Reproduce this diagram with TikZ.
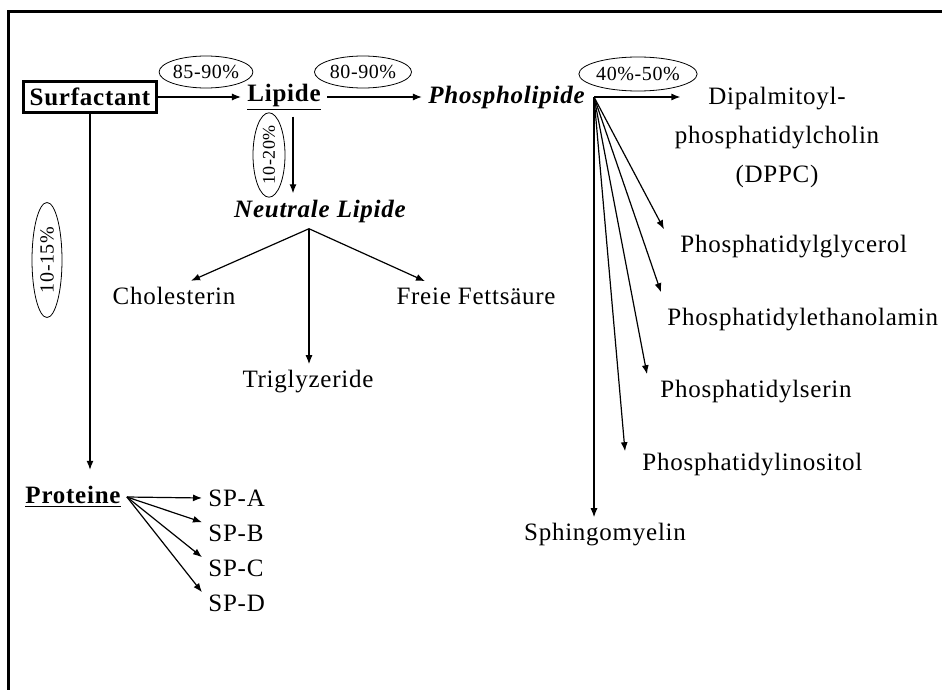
\documentclass[tikz,border=0pt]{standalone}
\usepackage{fontspec}
\setmainfont{Liberation Serif}[LetterSpace=3]
\usetikzlibrary{positioning,shapes.geometric,arrows.meta}

\begin{document}
\begin{tikzpicture}[
  x=0.5pt, y=-0.5pt,
  font=\fontsize{12.5}{15}\selectfont,
  lbl/.style={inner sep=3pt},
  head/.style={inner sep=3pt,font=\fontsize{12.5}{15}\selectfont\bfseries},
  headit/.style={inner sep=3pt,font=\fontsize{12.5}{15}\selectfont\bfseries\itshape},
  pct/.style={ellipse,draw,line width=0.4pt,inner sep=0pt,minimum height=16pt,font=\fontsize{10}{12}\selectfont},
  arrow/.style={->,>={Latex[length=4.5pt,width=3.5pt]},line width=0.6pt}
]
\useasboundingbox (0,0) rectangle (942,690);
\draw[line width=1.5pt] (8.5,690) -- (8.5,12) -- (942,12);

% main branches
\node[head,draw,line width=1.2pt,minimum height=15.5pt,inner xsep=3pt] (surf) at (90,97) {Surfactant};
\node[head] (lip) at (284,97) {\underline{Lipide}};
\node[headit,anchor=east] (phos) at (591,97) {Phospholipide};
\node[headit] (neut) at (320,211) {Neutrale Lipide};
\node[head] (prot) at (73,497) {\underline{Proteine}};

% percentages
\node[pct,minimum width=46pt] (p1) at (206,72) {85-90\%};
\node[pct,minimum width=48.5pt] (p2) at (363,72) {80-90\%};
\node[pct,minimum width=53.5pt,minimum height=17pt] (p3) at (638,74) {40\%-50\%};
\node[pct,minimum width=37.5pt,rotate=90,font=\fontsize{9}{10}\selectfont] (p4) at (269,155) {10-20\%};
\node[pct,minimum width=57.5pt,minimum height=15pt,rotate=90] (p5) at (47,260) {10-15\%};

% neutral lipids
\node[lbl] (chol) at (174,296) {Cholesterin};
\node[lbl] (freie) at (476,296) {Freie Fettsäure};
\node[lbl] (trig) at (308,382) {Triglyzeride};

% phospholipids
\node[lbl,align=center,font=\fontsize{12.5}{19.5}\selectfont] (dppc) at (777,137) {Dipalmitoyl-\\phosphatidylcholin\\(DPPC)};
\node[lbl,anchor=west] (glyc) at (674,247) {Phosphatidylglycerol};
\node[lbl,anchor=west] (eth) at (661,320) {Phosphatidylethanolamin};
\node[lbl,anchor=west] (ser) at (654,392) {Phosphatidylserin};
\node[lbl,anchor=west] (ino) at (636,465) {Phosphatidylinositol};
\node[lbl] (sph) at (605,535) {Sphingomyelin};

% proteins
\node[lbl,anchor=west] (spa) at (202,498) {SP-A};
\node[lbl,below=17.5pt of spa.west,anchor=west] (spb) {SP-B};
\node[lbl,below=17.5pt of spb.west,anchor=west] (spc) {SP-C};
\node[lbl,below=17.5pt of spc.west,anchor=west] (spd) {SP-D};

\coordinate (lipdown) at ([xshift=4.5pt]lip.south);
\coordinate (neutfork) at ([xshift=-5.5pt]neut.south);
\coordinate (phosfork) at ([xshift=1.5pt]phos.east);

\draw[arrow] (surf.east) -- (lip.west);
\draw[arrow] (lip.east) -- (phos.west);
\draw[arrow] (lipdown) -- (lipdown |- neut.north);
\draw[arrow,shorten >=5pt] (surf.south) -- (surf.south |- prot.north);

\draw[arrow] (neutfork) -- ([xshift=8.5pt]chol.north);
\draw[arrow] (neutfork) -- (neutfork |- trig.north);
\draw[arrow] (neutfork) -- ([xshift=-25.5pt]freie.north);

\draw[arrow,shorten >=-6pt] (phosfork) -- (phosfork -| dppc.west);
\foreach \t/\dx/\dy in {glyc/-5/0,eth/0/5,ser/-3.5/0,ino/-5.5/-2}
  \draw[arrow] (phosfork) -- ([xshift=\dx pt,yshift=\dy pt]\t.north west);
\draw[arrow] (phosfork) -- (phosfork |- sph.north);

\draw[arrow] (prot.east) -- (spa.west);
\foreach \sp in {spb,spc,spd}
  \draw[arrow] (prot.east) -- ([yshift=-2pt]\sp.north west);
\end{tikzpicture}
\end{document}
